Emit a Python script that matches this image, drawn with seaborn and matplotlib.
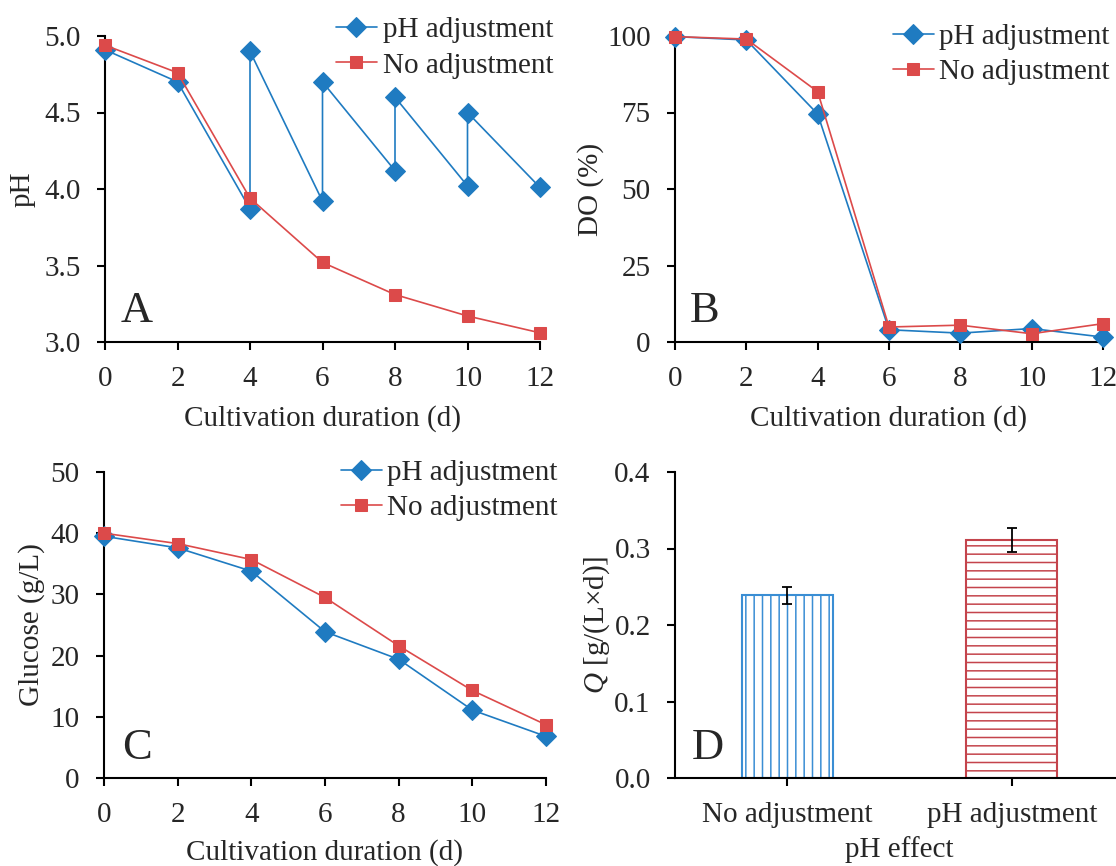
import matplotlib
matplotlib.use('Agg')
import matplotlib.pyplot as plt
import seaborn as sns

# time points (d); pH adjustment series repeats a day where pH was reset
days = [0, 2, 4, 6, 8, 10, 12]
ph_adj_days = [0, 2, 4, 4, 6, 6, 8, 8, 10, 10, 12]
ph_adj = [4.91, 4.70, 3.87, 4.90, 3.92, 4.70, 4.12, 4.60, 4.02, 4.50, 4.01]
ph_noadj = [4.94, 4.76, 3.94, 3.52, 3.31, 3.17, 3.06]

do_adj = [99.8, 98.7, 74.5, 4.0, 2.9, 4.4, 1.6]
do_noadj = [99.8, 99.0, 81.8, 4.9, 5.5, 2.7, 6.0]

glc_adj = [39.5, 37.6, 33.8, 23.9, 19.4, 11.1, 6.8]
glc_noadj = [40.0, 38.3, 35.7, 29.5, 21.6, 14.3, 8.7]

q_groups = ['No adjustment', 'pH adjustment']
q_values = [0.239, 0.311]
q_err = [0.011, 0.016]

blue = '#1F7BC1'
red = '#DC4A4A'

sns.set_theme(style='ticks')
plt.rcParams['font.family'] = ['Liberation Serif', 'DejaVu Serif']
plt.rcParams['mathtext.fontset'] = 'custom'
plt.rcParams['mathtext.it'] = 'Liberation Serif:italic'
plt.rcParams['mathtext.rm'] = 'Liberation Serif'
plt.rcParams['hatch.linewidth'] = 1.1
FS = 21

fig = plt.figure(figsize=(11.16, 8.66), dpi=100)
W, H = 1116, 866


def make_ax(left, top, right, bottom):
    return fig.add_axes([left / W, (H - bottom) / H, (right - left) / W, (bottom - top) / H])


def style_ax(ax):
    sns.despine(ax=ax)
    for s in ['left', 'bottom']:
        ax.spines[s].set_linewidth(1.5)
        ax.spines[s].set_color('black')
    ax.tick_params(axis='both', labelsize=FS, width=1.5, length=6, color='black',
                   direction='out')
    ax.tick_params(axis='y', pad=11.5)
    ax.tick_params(axis='x', pad=11)
    ax.set_facecolor('white')


def lines(ax, x1, y1, x2, y2, xpad=10):
    sns.lineplot(x=x1, y=y1, ax=ax, sort=False, estimator=None, color=blue,
                 marker='D', markersize=10.5, markeredgecolor=blue, markerfacecolor=blue,
                 linewidth=1.2, label='pH adjustment', clip_on=False, zorder=3)
    sns.lineplot(x=x2, y=y2, ax=ax, sort=False, estimator=None, color=red,
                 marker='s', markersize=9, markeredgecolor=red, markerfacecolor=red,
                 linewidth=1.2, label='No adjustment', clip_on=False, zorder=4)
    ax.set_xlim(0, 12)
    ax.set_xticks(days)
    ax.set_xlabel('Cultivation duration (d)', fontsize=FS, labelpad=xpad)


def legend(ax, anchor):
    ax.legend(loc='upper right', bbox_to_anchor=anchor, frameon=False, fontsize=FS,
              handlelength=1.4, handletextpad=0.2, labelspacing=0.3, borderpad=0,
              borderaxespad=0)


# A: pH
axA = make_ax(105, 36, 540, 342)
lines(axA, ph_adj_days, ph_adj, days, ph_noadj)
axA.set_ylim(3.0, 5.0)
axA.set_yticks([3.0, 3.5, 4.0, 4.5, 5.0])
axA.set_yticklabels(['3.0', '3.5', '4.0', '4.5', '5.0'])
axA.set_ylabel('pH', fontsize=FS, labelpad=6)
style_ax(axA)
legend(axA, (1.03, 1.062))
axA.text(0.035, 0.065, 'A', transform=axA.transAxes, fontsize=32)

# B: DO
axB = make_ax(675, 36, 1103, 342)
lines(axB, days, do_adj, days, do_noadj)
axB.set_ylim(0, 100)
axB.set_yticks([0, 25, 50, 75, 100])
axB.set_ylabel('DO (%)', fontsize=FS, labelpad=2)
style_ax(axB)
legend(axB, (1.016, 1.04))
axB.text(0.035, 0.065, 'B', transform=axB.transAxes, fontsize=32)

# C: glucose
axC = make_ax(104, 472, 546, 778)
lines(axC, days, glc_adj, days, glc_noadj, xpad=8)
axC.set_ylim(0, 50)
axC.set_yticks([0, 10, 20, 30, 40, 50])
axC.set_ylabel('Glucose (g/L)', fontsize=FS, labelpad=4)
style_ax(axC)
legend(axC, (1.027, 1.04))
axC.text(0.04, 0.062, 'C', transform=axC.transAxes, fontsize=32)

# D: productivity
axD = make_ax(675, 472, 1124, 778)
sns.barplot(x=q_groups, y=q_values, ax=axD, width=0.405, color='white',
            linewidth=1.5, errorbar=None)
bar_edges = [('#3A8ED4', '||'), ('#C4444C', '--')]
for patch, (ec, hatch) in zip(axD.patches, bar_edges):
    patch.set_facecolor('white')
    patch.set_edgecolor(ec)
    patch.set_hatch(hatch)
axD.errorbar(x=[0, 1], y=q_values, yerr=q_err, fmt='none', ecolor='black',
             elinewidth=1.3, capsize=3.3, capthick=1.3, zorder=5)
axD.set_xlim(-0.5, 1.5)
axD.set_ylim(0, 0.4)
axD.set_yticks([0.0, 0.1, 0.2, 0.3, 0.4])
axD.set_yticklabels(['0.0', '0.1', '0.2', '0.3', '0.4'])
axD.set_ylabel(r'$Q$ [g/(L×d)]', fontsize=FS, labelpad=2)
axD.set_xlabel('pH effect', fontsize=FS, labelpad=6)
style_ax(axD)
axD.text(0.038, 0.062, 'D', transform=axD.transAxes, fontsize=32)

fig.savefig('out.png', dpi=100, facecolor='white')
